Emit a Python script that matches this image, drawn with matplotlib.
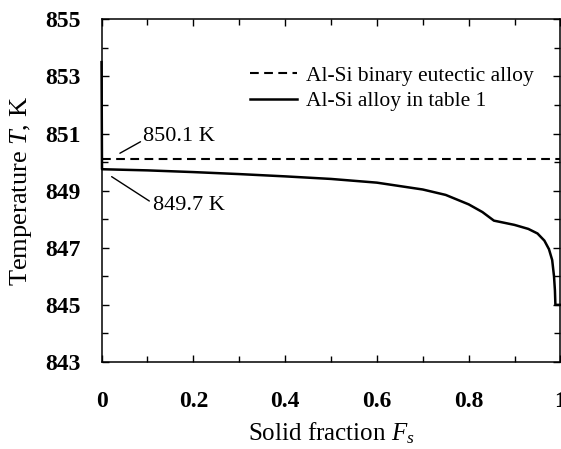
import matplotlib
matplotlib.use("Agg")
import matplotlib.pyplot as plt
from matplotlib.ticker import MultipleLocator

plt.rcParams['font.family'] = ['Liberation Serif', 'DejaVu Serif']
plt.rcParams['mathtext.fontset'] = 'custom'
plt.rcParams['mathtext.rm'] = 'Liberation Serif'
plt.rcParams['mathtext.it'] = 'Liberation Serif:italic'

# Data
F_binary = [0.0, 1.0]
T_binary = [850.1, 850.1]

F_alloy = [0.0, 0.001, 0.1, 0.2, 0.3, 0.4, 0.5, 0.6, 0.7, 0.75, 0.8, 0.83,
           0.855, 0.87, 0.9, 0.93, 0.95, 0.965, 0.975, 0.982, 0.986, 0.988,
           0.989, 1.0]
T_alloy = [853.5, 849.75, 849.71, 849.65, 849.58, 849.5, 849.41, 849.28, 849.04,
           848.85, 848.52, 848.25, 847.95, 847.9, 847.8, 847.66, 847.5, 847.25,
           846.95, 846.57, 846.0, 845.5, 845.0, 845.0]

x_ticks = [0, 0.2, 0.4, 0.6, 0.8, 1]
x_ticklabels = ['0', '0.2', '0.4', '0.6', '0.8', '1']
y_ticks = [843, 845, 847, 849, 851, 853, 855]

fig = plt.figure(figsize=(5.61, 4.49), dpi=100)
ax = fig.add_axes([0.181, 0.1938, 0.818, 0.7632])

ax.plot(F_binary, T_binary, color='black', lw=1.5, ls=(0, (4.2, 2.6)),
        label='Al-Si binary eutectic alloy')
ax.plot(F_alloy, T_alloy, color='black', lw=1.8, label='Al-Si alloy in table 1',
        clip_on=False, zorder=3)

ax.set_xlim(0, 1)
ax.set_ylim(843, 855)
ax.set_xticks(x_ticks)
ax.set_xticklabels(x_ticklabels)
ax.set_yticks(y_ticks)
ax.xaxis.set_minor_locator(MultipleLocator(0.1))
ax.yaxis.set_minor_locator(MultipleLocator(1))
ax.tick_params(which='both', direction='in', top=True, right=True, width=1.0)
ax.tick_params(which='major', length=5)
ax.tick_params(which='minor', length=4)
ax.tick_params(axis='x', which='major', pad=21)
ax.tick_params(axis='y', which='major', pad=15)
for lab in ax.get_xticklabels() + ax.get_yticklabels():
    lab.set_fontweight('bold')
    lab.set_fontsize(17)
for s in ax.spines.values():
    s.set_linewidth(1.1)

ax.set_xlabel('Solid fraction $F_s$', fontsize=18)
ax.set_ylabel('Temperature $T$, K', fontsize=19)
ax.xaxis.set_label_coords(0.5, -0.17)
ax.yaxis.set_label_coords(-0.147, 0.5)

leg = ax.legend(loc='upper left', bbox_to_anchor=(0.324, 0.864), frameon=False,
                fontsize=15.5, handlelength=2.15, handletextpad=0.45,
                labelspacing=0.25, borderpad=0, borderaxespad=0)

ax.annotate('850.1 K', xy=(0.040, 850.31), xytext=(0.091, 850.9),
            fontsize=16, va='center', ha='left',
            arrowprops=dict(arrowstyle='-', color='black', lw=1.0,
                            shrinkA=0, shrinkB=0, relpos=(0, 0.3)))
ax.annotate('849.7 K', xy=(0.022, 849.49), xytext=(0.112, 848.47),
            fontsize=16, va='center', ha='left',
            arrowprops=dict(arrowstyle='-', color='black', lw=1.0,
                            shrinkA=0, shrinkB=0, relpos=(-0.05, 0.75)))

fig.savefig('out.png', dpi=100)
